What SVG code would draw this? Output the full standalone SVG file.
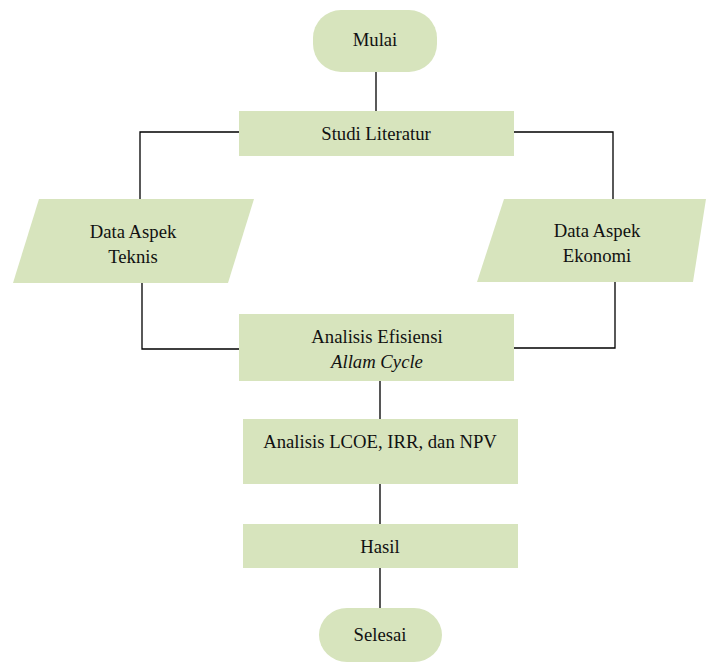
<svg xmlns="http://www.w3.org/2000/svg" width="706" height="662" viewBox="0 0 706 662">
<style>
.n{fill:#d7e4bd;stroke:none}
.t{font-family:'Liberation Serif','Times New Roman',Times,serif;font-size:18.7px;fill:#111;text-anchor:middle}
.c{fill:none;stroke:#000;stroke-width:1.3}
.c2{fill:none;stroke:#444;stroke-width:1.8}
</style>
<rect width="706" height="662" fill="#fff"/>
<g id="connectors">
<path class="c" d="M376,72 V111"/>
<path class="c" d="M239,132 H140 V199"/>
<path class="c" d="M514,132 H613 V199"/>
<path class="c" d="M142,283 V349 H239"/>
<path class="c" d="M615,282 V348 H514"/>
<path class="c2" d="M380,381 V419"/>
<path class="c2" d="M380,484 V524"/>
<path class="c2" d="M380,568 V608"/>
</g>
<g id="mulai">
<rect class="n" x="313" y="10" width="124" height="62" rx="28" ry="28"/>
<text class="t" x="375" y="46">Mulai</text>
</g>
<g id="studi">
<rect class="n" x="239" y="111" width="275" height="45"/>
<text class="t" x="376" y="140">Studi Literatur</text>
</g>
<g id="teknis">
<polygon class="n" points="39,199 254,199 228,283 13,283"/>
<text class="t" x="133" y="238">Data Aspek</text>
<text class="t" x="133" y="263">Teknis</text>
</g>
<g id="ekonomi">
<polygon class="n" points="504,199 706,199 693,282 477,282"/>
<text class="t" x="597" y="237">Data Aspek</text>
<text class="t" x="597" y="262">Ekonomi</text>
</g>
<g id="efisiensi">
<rect class="n" x="239" y="314" width="275" height="67"/>
<text class="t" x="377" y="343">Analisis Efisiensi</text>
<text class="t" x="377" y="368" font-style="italic">Allam Cycle</text>
</g>
<g id="lcoe">
<rect class="n" x="243" y="419" width="275" height="65"/>
<text class="t" x="380" y="448">Analisis LCOE, IRR, dan NPV</text>
</g>
<g id="hasil">
<rect class="n" x="243" y="524" width="275" height="44"/>
<text class="t" x="380" y="553">Hasil</text>
</g>
<g id="selesai">
<rect class="n" x="319" y="608" width="123" height="54" rx="28" ry="28"/>
<text class="t" x="380" y="641">Selesai</text>
</g>
</svg>
